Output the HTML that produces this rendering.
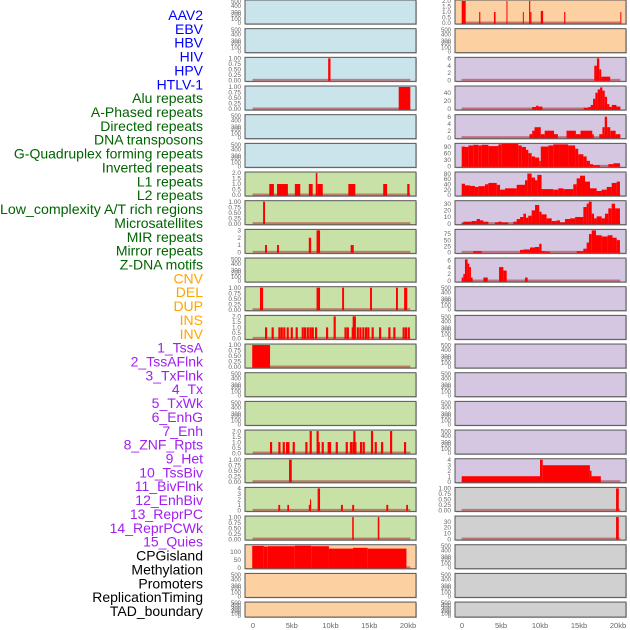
<!DOCTYPE html>
<html><head><meta charset="utf-8"><style>
html,body{margin:0;padding:0;background:#fff;}
svg{display:block;font-family:"Liberation Sans",sans-serif;}
</style></head><body>
<svg id="chart" width="630" height="630" viewBox="0 0 630 630" xmlns="http://www.w3.org/2000/svg"></svg>
<script>
// ---------- data ----------
const trackLabels = ["AAV2","EBV","HBV","HIV","HPV","HTLV-1","Alu repeats","A-Phased repeats","Directed repeats","DNA transposons","G-Quadruplex forming repeats","Inverted repeats","L1 repeats","L2 repeats","Low_complexity A/T rich regions","Microsatellites","MIR repeats","Mirror repeats","Z-DNA motifs","CNV","DEL","DUP","INS","INV","1_TssA","2_TssAFlnk","3_TxFlnk","4_Tx","5_TxWk","6_EnhG","7_Enh","8_ZNF_Rpts","9_Het","10_TssBiv","11_BivFlnk","12_EnhBiv","13_ReprPC","14_ReprPCWk","15_Quies","CPGisland","Methylation","Promoters","ReplicationTiming","TAD_boundary"];
const labelGroups = ["v","v","v","v","v","v","r","r","r","r","r","r","r","r","r","r","r","r","r","s","s","s","s","s","c","c","c","c","c","c","c","c","c","c","c","c","c","c","c","k","k","k","k","k"];
const xTicks = [0,5,10,15,20];
const xTickLabels = ["0","5kb","10kb","15kb","20kb"];

// segments: [startKb, endKb, value]
const hivL = [[9.7,10.0,1]];
const hpvL = [[18.8,20.3,1]];
const l1L = [[2.1,2.7,1],[3.1,4.5,1],[5.4,6.1,1],[7.2,7.7,1],[8.1,8.3,2],[8.3,9.0,1],[12.3,13.2,1],[16.8,17.3,1],[19.9,20.2,1]];
const l2L = [[1.3,1.55,1]];
const lowCompL = [[1.55,1.8,1],[3.1,3.35,1],[7.2,7.5,2],[8.2,8.65,3],[12.6,13.0,1]];
const mirrorL = [[0.9,1.3,1],[8.2,8.65,1],[11.5,11.75,1],[15.1,15.35,1],[18.45,18.7,1],[19.5,19.9,1]];
const zdnaL = [[1.55,1],[2.4,1],[3.27,1],[3.57,1],[3.9,1],[4.34,1],[4.86,1],[5.5,1],[6.28,1],[6.58,1],[6.93,1],[7.27,1],[7.57,1],[8.0,1],[9.42,1],[10.4,2],[11.8,1],[12.1,1],[12.73,1],[12.86,2],[13.0,2],[13.38,1],[13.72,1],[14.1,1],[14.45,1],[14.75,1],[15.3,1],[16.26,1],[17.46,1],[18.1,1],[19.3,1],[19.6,1],[19.96,1]];
const tssaL = [[-0.1,2.2,1]];
const enhL = [[2.19,1],[3.27,1],[3.83,1],[4.26,1],[4.43,1],[5.12,1],[6.75,1],[7.31,2],[8.2,2],[8.34,1],[8.86,1],[9.63,1],[9.8,1],[10.67,1],[11.96,1],[12.5,1],[12.8,1],[12.94,2],[13.07,1],[13.8,1],[14.15,1],[15.22,2],[15.7,1],[16.52,1],[17.68,2],[19.48,1]];
const hetL = [[4.65,5.0,1]];
const bivFlnkL = [[3.27,3.5,1],[4.43,4.65,1],[7.2,7.35,1],[7.35,7.5,2],[8.34,8.65,4],[11.35,11.6,1],[12.8,13.05,1],[17.2,17.45,1],[19.77,20.0,1]];
const enhBivL = [[12.8,13.0,1],[16.1,16.3,1]];
const cpgL = [[-0.1,1.4,137],[1.4,1.9,133],[1.9,5.4,135],[5.4,7.5,138],[7.5,9.8,135],[9.8,12.9,120],[12.9,14.8,125],[14.8,19.8,120]];

const aav2R = [[-0.04,0.47,2],[2.2,2.35,1],[4.1,4.3,1],[5.7,5.8,2],[7.8,7.9,1],[8.6,8.75,2],[8.75,8.9,1],[10.1,10.4,1.1],[13.1,13.25,1],[20.3,20.4,1]];
const htlvR = [[16.96,17.3,4],[17.3,17.6,6],[17.6,17.85,3],[17.85,19.0,1]];
const aluR = [[9.0,9.5,5],[9.5,9.8,8],[9.8,10.3,6],[15.6,16.2,3],[16.2,16.5,5],[16.5,16.8,10],[16.8,17.1,25],[17.1,17.4,40],[17.4,17.7,48],[17.7,18.0,53],[18.0,18.3,45],[18.3,18.6,30],[18.6,18.9,12],[18.9,19.2,5],[19.2,19.8,10],[19.8,20.3,6]];
const aPhasedR = [[8.65,9.0,1],[9.0,9.3,2],[9.3,10.1,3],[10.1,10.6,1],[10.6,11.8,2],[11.8,12.3,1],[13.4,14.6,2],[14.6,15.2,1],[15.2,16.7,2],[16.7,16.9,1],[17.6,18.0,1],[18.0,18.3,3],[18.3,18.6,6],[18.6,19.0,3],[19.0,19.7,2],[19.7,20.3,1]];
const gQuadEdges = [-0.04,0.38,0.81,1.45,2.09,2.52,3.38,4.66,5.09,7.22,7.65,8.2,8.5,8.93,9.36,9.9,10.1,11.07,11.7,12.56,13.6,14.5,14.9,15.56,15.98,16.4,16.8,17.7,18.76,19.4,20.25];
const gQuadValues = [90,88,95,98,95,98,92,100,104,95,88,75,60,45,40,25,90,95,100,100,95,80,55,45,25,10,5,0,10,14];
const invEdges = [-0.04,0.38,1.02,1.66,2.09,2.94,3.38,4.45,4.88,5.52,7.01,8.08,8.38,8.93,9.36,9.66,10.2,11.7,12.35,12.99,14.27,14.7,15.13,15.77,16.41,17.26,17.9,18.55,19.19,19.83,20.25];
const invValues = [42,36,34,30,33,40,45,38,20,25,38,55,80,65,55,75,22,20,25,22,40,62,72,50,25,15,20,30,45,50];
const l1Edges = [-0.04,0.17,1.24,1.88,2.31,2.74,3.38,4.23,4.66,5.09,5.94,6.58,7.01,7.44,7.87,8.2,8.5,8.93,9.36,9.9,10.2,10.85,11.5,12.13,12.56,13.2,13.85,14.5,15.56,15.98,16.24,16.63,16.93,17.26,17.9,18.33,18.76,19.19,19.62,20.25];
const l1Values = [1,3,4,7,5,3,0,2,3,2,0,3,7,10,15,9,12,20,28,18,14,8,4,5,2,7,8,10,25,30,33,15,8,11,8,15,23,30,23];
const l2R = [[1.45,2.52,5],[7.44,7.87,10],[7.87,8.72,12],[8.72,9.36,20],[9.36,9.9,22],[9.9,10.2,35],[10.2,10.63,5],[10.63,11.28,3],[14.7,15.56,5],[15.56,15.98,15],[15.98,16.28,40],[16.28,16.63,75],[16.63,17.18,90],[17.18,17.9,70],[17.9,18.67,65],[18.67,19.3,70],[19.3,19.83,60],[19.83,20.25,50]];
const lowCompR = [[-0.04,0.17,1],[0.17,0.38,2],[0.38,0.72,6.2],[0.72,0.94,5],[0.94,1.15,4],[1.15,1.36,1],[2.74,3.3,1],[4.75,5.3,4],[5.3,5.73,3],[8.08,8.42,1]];
const tssBivR = [[-0.04,10.0,1],[10.0,10.35,4],[10.35,16.4,3],[16.4,16.6,2],[16.6,17.8,1]];
const reprPCR = [[19.75,20.1,1]];
const reprPCWkR = [[19.75,20.1,38]];

// ---------- layout ----------
const BG = {b:"#c9e4eb",g:"#c8e1a6",o:"#fdd0a2",p:"#d5c6e2",k:"#d0d0d0"};
const EMPTY = [0,100,200,300,400,500];
const T1 = [0,0.25,0.5,0.75,1];
const T2 = [0,0.5,1,1.5,2];
function seg3(a){return a;}
function spikes(a,w){return a.map(d=>[d[0],d[0]+w,d[1]]);}
function edges(e,v){const out=[];for(let i=0;i<v.length;i++)out.push([e[i],e[i+1],v[i]]);return out;}
const panels = [
 {s:"L",r:0,bg:"b"},{s:"L",r:1,bg:"b"},
 {s:"L",r:2,bg:"b",ymax:1,ticks:T1,dec:2,d:hivL},
 {s:"L",r:3,bg:"b",ymax:1,ticks:T1,dec:2,d:hpvL},
 {s:"L",r:4,bg:"b"},{s:"L",r:5,bg:"b"},
 {s:"L",r:6,bg:"g",ymax:2,ticks:T2,dec:1,d:l1L},
 {s:"L",r:7,bg:"g",ymax:1,ticks:T1,dec:2,d:l2L},
 {s:"L",r:8,bg:"g",ymax:3,ticks:[0,1,2,3],dec:0,d:lowCompL},
 {s:"L",r:9,bg:"g"},
 {s:"L",r:10,bg:"g",ymax:1,ticks:T1,dec:2,d:mirrorL},
 {s:"L",r:11,bg:"g",ymax:2,ticks:T2,dec:1,d:spikes(zdnaL,0.28)},
 {s:"L",r:12,bg:"g",ymax:1,ticks:T1,dec:2,d:tssaL},
 {s:"L",r:13,bg:"g"},{s:"L",r:14,bg:"g"},
 {s:"L",r:15,bg:"g",ymax:2,ticks:T2,dec:1,d:spikes(enhL,0.28)},
 {s:"L",r:16,bg:"g",ymax:1,ticks:T1,dec:2,d:hetL},
 {s:"L",r:17,bg:"g",ymax:4,ticks:[0,1,2,3,4],dec:0,d:bivFlnkL},
 {s:"L",r:18,bg:"g",ymax:1,ticks:T1,dec:2,d:enhBivL},
 {s:"L",r:19,bg:"o",ymax:138,ticks:[0,50,100],dec:0,d:cpgL},
 {s:"L",r:20,bg:"o"},{s:"L",r:21,bg:"o"},
 {s:"R",r:0,bg:"o",ymax:2,ticks:T2,dec:1,d:aav2R},
 {s:"R",r:1,bg:"o"},
 {s:"R",r:2,bg:"p",ymax:6,ticks:[0,2,4,6],dec:0,d:htlvR},
 {s:"R",r:3,bg:"p",ymax:54,ticks:[0,20,40],dec:0,d:aluR},
 {s:"R",r:4,bg:"p",ymax:6.3,ticks:[0,2,4,6],dec:0,d:aPhasedR},
 {s:"R",r:5,bg:"p",ymax:100,ticks:[0,30,60,90],dec:0,d:edges(gQuadEdges,gQuadValues)},
 {s:"R",r:6,bg:"p",ymax:82,ticks:[0,20,40,60,80],dec:0,d:edges(invEdges,invValues)},
 {s:"R",r:7,bg:"p",ymax:33,ticks:[0,10,20,30],dec:0,d:edges(l1Edges,l1Values)},
 {s:"R",r:8,bg:"p",ymax:90,ticks:[0,25,50,75],dec:0,d:l2R},
 {s:"R",r:9,bg:"p",ymax:6.3,ticks:[0,2,4,6],dec:0,d:lowCompR},
 {s:"R",r:10,bg:"p"},{s:"R",r:11,bg:"p"},{s:"R",r:12,bg:"p"},{s:"R",r:13,bg:"p"},{s:"R",r:14,bg:"p"},{s:"R",r:15,bg:"p"},
 {s:"R",r:16,bg:"p",ymax:4,ticks:[0,1,2,3,4],dec:0,d:tssBivR},
 {s:"R",r:17,bg:"k",ymax:1,ticks:T1,dec:2,d:reprPCR},
 {s:"R",r:18,bg:"k",ymax:38,ticks:[0,10,20,30],dec:0,d:reprPCWkR},
 {s:"R",r:19,bg:"k"},{s:"R",r:20,bg:"k"},{s:"R",r:21,bg:"k"}
];

const NS="http://www.w3.org/2000/svg";
const svg=document.getElementById("chart");
function mk(tag,attrs,parent){const e=document.createElementNS(NS,tag);for(const k in attrs)e.setAttribute(k,attrs[k]);(parent||svg).appendChild(e);return e;}
const COLX={L:{x0:245,x1:416,z:253,k:7.75,tx:241},R:{x0:455,x1:626,z:462,k:7.8,tx:451}};
function xScale(side,kb){const c=COLX[side];return c.z+kb*c.k;}
function rowTop(r){return r*28.67;}
function rowH(r){return r===21?15:24;}

// labels
const lblColors={v:"#0000ff",r:"#006400",s:"#ffa500",c:"#a020f0",k:"#000000"};
trackLabels.forEach((t,i)=>{
  const el=mk("text",{x:203,y:15+i*13.86+5,"text-anchor":"end","font-size":"14",fill:lblColors[labelGroups[i]]});
  if(t.length>28){el.setAttribute("textLength","203");el.setAttribute("lengthAdjust","spacingAndGlyphs");}
  el.textContent=t;
  
  
});

panels.forEach(p=>{
  const c=COLX[p.s], top=rowTop(p.r), h=rowH(p.r);
  const g=mk("g",{});
  
  
  mk("rect",{x:c.x0+1,y:top+1,width:c.x1-c.x0,height:h,fill:"#999",opacity:0.5},g);
  mk("rect",{x:c.x0,y:top,width:c.x1-c.x0,height:h,fill:BG[p.bg],stroke:"#555","stroke-width":1},g);
  const y0=top+h-1;
  if(!p.d){
    const ys=[y0,top+h-5,top+h-9.5,top+h-11.5,top+h-18,top+h-22.5];
    EMPTY.forEach((t,i)=>{
      const tx=mk("text",{x:c.tx,y:(p.r===21?top+h-1-i*2.6:ys[i])+2,"text-anchor":"end","font-size":"6",fill:"#666"},g);
      tx.textContent=String(t);
      
      
    });
    return;
  }
  const yS=v=>y0-(v/p.ymax)*(h-2);
  p.ticks.forEach(t=>{
    const tx=mk("text",{x:c.tx,y:yS(t)+2.2,"text-anchor":"end","font-size":"6.5",fill:"#666"},g);
    tx.textContent=t.toFixed(p.dec);
    
    
  });
  // baseline
  const bl=mk("rect",{x:xScale(p.s,-0.05),y:y0-1.5,width:xScale(p.s,20.3)-xScale(p.s,-0.05),height:2,fill:"#b03a3a",opacity:0.6},g);
  
  
  p.d.forEach(d=>{
    if(d[2]<=0)return;
    const xa=xScale(p.s,d[0]), xb=xScale(p.s,d[1]), yt=Math.max(top+0.5,yS(d[2]));
    const b=mk("rect",{x:xa,y:yt,width:Math.max(1,xb-xa),height:y0-yt+0.5,fill:"#ff0000"},g);
    
    
  });
});

// x-axis labels
["L","R"].forEach(s=>{
  xTicks.forEach((t,i)=>{
    const tx=mk("text",{x:xScale(s,t),y:628,"text-anchor":"middle","font-size":"7.5",fill:"#666"});
    tx.textContent=xTickLabels[i];
    
    
  });
});
</script>
</body></html>
